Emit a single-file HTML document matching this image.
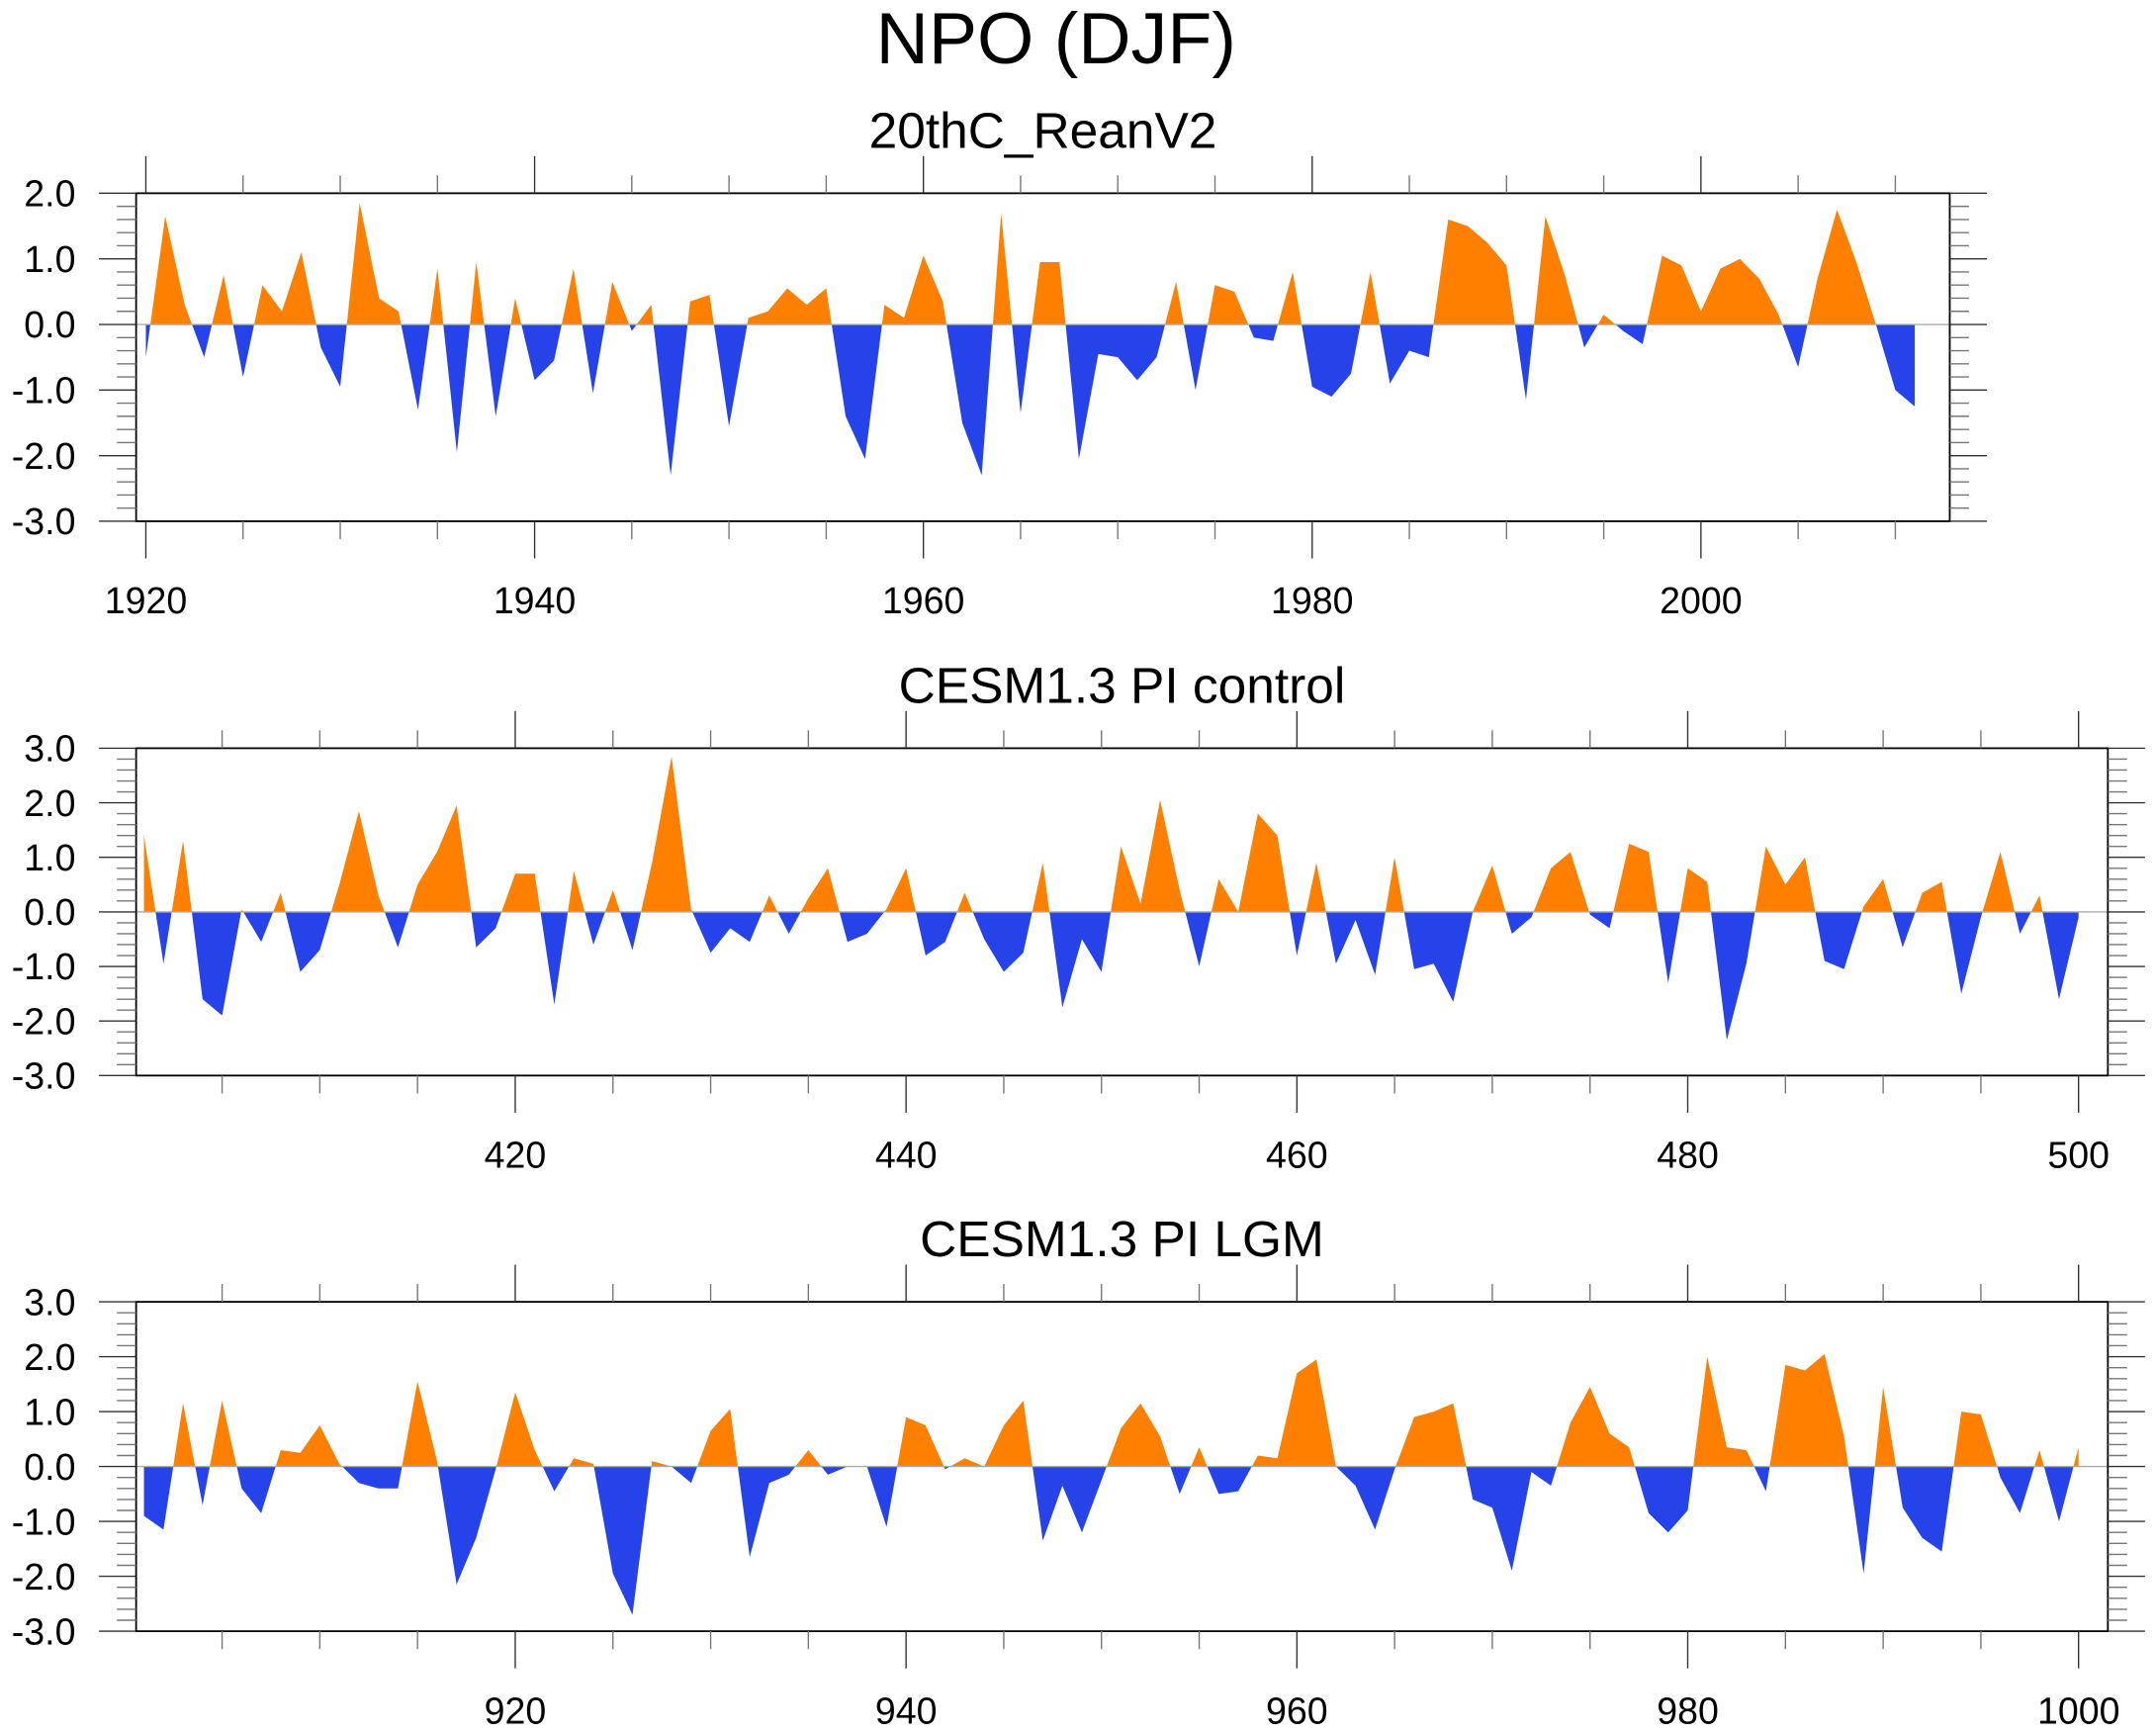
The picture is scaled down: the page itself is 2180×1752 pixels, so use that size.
<!DOCTYPE html>
<html><head><meta charset="utf-8"><style>
html,body{margin:0;padding:0;background:#fff}
svg{display:block}
text{font-family:"Liberation Sans",sans-serif;fill:#000}
</style></head><body>
<svg id="chart" xmlns="http://www.w3.org/2000/svg" width="2180" height="1752" viewBox="0 0 1568 1260" preserveAspectRatio="none">
<text x="768" y="46" font-size="53" text-anchor="middle">NPO (DJF)</text>
</svg>
<script>
const years1 = [1920, 2011];
const vals1 = [-0.5,1.65,0.3,-0.5,0.75,-0.8,0.6,0.2,1.1,-0.35,-0.95,1.85,0.4,0.2,-1.3,0.85,-1.95,0.95,-1.4,0.4,-0.85,-0.55,0.85,-1.05,0.65,-0.1,0.3,-2.3,0.35,0.45,-1.55,0.1,0.2,0.55,0.3,0.55,-1.4,-2.05,0.3,0.1,1.05,0.35,-1.5,-2.3,1.7,-1.35,0.95,0.95,-2.05,-0.45,-0.5,-0.85,-0.5,0.65,-1.0,0.6,0.5,-0.2,-0.25,0.8,-0.95,-1.1,-0.75,0.8,-0.9,-0.4,-0.5,1.6,1.5,1.25,0.9,-1.15,1.65,0.75,-0.35,0.15,-0.1,-0.3,1.05,0.9,0.2,0.85,1.0,0.7,0.15,-0.65,0.7,1.75,0.95,0.0,-1.0,-1.25];
const vals2 = [1.4,-0.95,1.3,-1.6,-1.9,0.05,-0.55,0.35,-1.1,-0.7,0.5,1.85,0.3,-0.65,0.5,1.1,1.95,-0.65,-0.3,0.7,0.7,-1.7,0.75,-0.6,0.4,-0.7,0.9,2.85,0.05,-0.75,-0.3,-0.55,0.3,-0.4,0.25,0.8,-0.55,-0.4,0.05,0.8,-0.8,-0.55,0.35,-0.5,-1.1,-0.75,0.9,-1.75,-0.5,-1.1,1.2,0.15,2.05,0.4,-1.0,0.6,0.0,1.8,1.4,-0.8,0.9,-0.95,-0.15,-1.15,1.0,-1.05,-0.95,-1.65,0.0,0.85,-0.4,-0.1,0.8,1.1,-0.05,-0.3,1.25,1.1,-1.3,0.8,0.55,-2.35,-0.95,1.2,0.5,1.0,-0.9,-1.05,0.1,0.6,-0.65,0.35,0.55,-1.5,-0.1,1.1,-0.4,0.3,-1.6,-0.1];
const vals3 = [-0.9,-1.15,1.15,-0.7,1.2,-0.4,-0.85,0.3,0.25,0.75,0.05,-0.3,-0.4,-0.4,1.55,0.1,-2.15,-1.3,-0.05,1.35,0.3,-0.45,0.15,0.05,-1.95,-2.7,0.1,0.0,-0.3,0.65,1.05,-1.65,-0.3,-0.15,0.3,-0.15,0.0,0.0,-1.1,0.9,0.75,-0.05,0.15,0.0,0.75,1.2,-1.35,-0.35,-1.2,-0.25,0.7,1.15,0.55,-0.5,0.35,-0.5,-0.45,0.2,0.15,1.7,1.95,0.0,-0.35,-1.15,-0.05,0.9,1.0,1.15,-0.6,-0.75,-1.9,-0.1,-0.35,0.8,1.45,0.6,0.35,-0.85,-1.2,-0.8,2.0,0.35,0.3,-0.45,1.85,1.75,2.05,0.55,-1.95,1.45,-0.75,-1.3,-1.55,1.0,0.95,-0.2,-0.85,0.3,-1.0,0.35];
const yTicks1 = ["2.0","1.0","0.0","-1.0","-2.0","-3.0"];
const yTicks23 = ["3.0","2.0","1.0","0.0","-1.0","-2.0","-3.0"];

const NS="http://www.w3.org/2000/svg";
const svg=document.getElementById('chart');
function mk(tag,attrs,parent){const e=document.createElementNS(NS,tag);for(const k in attrs)e.setAttribute(k,attrs[k]);(parent||svg).appendChild(e);return e;}

function panel(cfg,idx){
  const g=mk('g',{});
  
  
  const L=cfg.left,R=cfg.right,T=cfg.top,B=cfg.bottom;
  const xs=v=>L+(v-cfg.x0)/(cfg.x1-cfg.x0)*(R-L);
  const ys=v=>T+(cfg.ymax-v)/(cfg.ymax-cfg.ymin)*(B-T);
  const t=mk('text',{x:(L+R)/2,y:T-33,'font-size':37,'text-anchor':'middle'},g);
  t.textContent=cfg.title;
  
  
  const id='clip'+idx;
  const defs=mk('defs',{},g);
  const c1=mk('clipPath',{id:id+'a'},defs);mk('rect',{x:L,y:T,width:R-L,height:ys(0)-T},c1);
  const c2=mk('clipPath',{id:id+'b'},defs);mk('rect',{x:L,y:ys(0),width:R-L,height:B-ys(0)},c2);
  let pts=xs(cfg.start)+','+ys(0)+' ';
  cfg.vals.forEach((v,i)=>{pts+=xs(cfg.start+i)+','+ys(v)+' ';});
  pts+=xs(cfg.start+cfg.vals.length-1)+','+ys(0);
  const pa=mk('polygon',{points:pts,fill:'#ff8000','clip-path':'url(#'+id+'a)'},g);
  
  
  const pb=mk('polygon',{points:pts,fill:'#2643ea','clip-path':'url(#'+id+'b)'},g);
  
  
  const zl=mk('line',{x1:L,x2:R,y1:ys(0),y2:ys(0),stroke:'#aaa','stroke-width':1},g);
  
  
  const bx=mk('rect',{x:L,y:T,width:R-L,height:B-T,fill:'none',stroke:'#000','stroke-width':1.3},g);
  
  
  for(let v=cfg.ymin;v<=cfg.ymax+1e-6;v+=0.2){
    const major=Math.abs(v-Math.round(v))<1e-6;
    const len=major?27:14;const y=ys(v);
    mk('line',{x1:L-len,x2:L,y1:y,y2:y,stroke:major?'#333':'#777','stroke-width':1},g);
    mk('line',{x1:R,x2:R+len,y1:y,y2:y,stroke:major?'#333':'#777','stroke-width':1},g);
  }
  cfg.yLabels.forEach(s=>{
    const tx=mk('text',{x:L-44,y:ys(parseFloat(s))+9.5,'font-size':27,'text-anchor':'end'},g);
    tx.textContent=s;
    
    
  });
  for(let v=Math.ceil(cfg.x0/5)*5;v<=cfg.x1;v+=5){
    const major=v%20===0;const len=major?27:13;const x=xs(v);
    mk('line',{x1:x,x2:x,y1:T-len,y2:T,stroke:major?'#333':'#777','stroke-width':1},g);
    mk('line',{x1:x,x2:x,y1:B,y2:B+len,stroke:major?'#333':'#777','stroke-width':1},g);
    if(major){
      const tx=mk('text',{x:x,y:B+67,'font-size':27,'text-anchor':'middle'},g);
      tx.textContent=String(v);
      
      
    }
  }
}
panel({title:'20thC_ReanV2',left:99,right:1418,top:140.5,bottom:379,x0:1919.5,x1:2012.8,ymin:-3,ymax:2,start:years1[0],vals:vals1,yLabels:yTicks1},1);
panel({title:'CESM1.3 PI control',left:99,right:1533,top:544,bottom:782,x0:400.6,x1:501.5,ymin:-3,ymax:3,start:401,vals:vals2,yLabels:yTicks23},2);
panel({title:'CESM1.3 PI LGM',left:99,right:1533,top:946.5,bottom:1186,x0:900.6,x1:1001.5,ymin:-3,ymax:3,start:901,vals:vals3,yLabels:yTicks23},3);
</script>
</body></html>
